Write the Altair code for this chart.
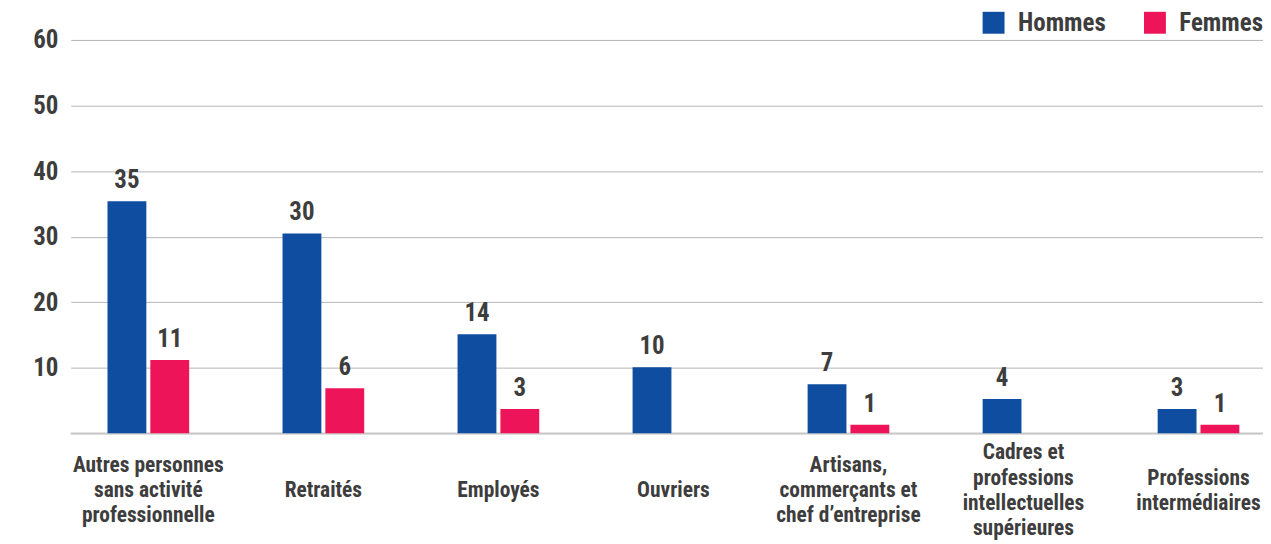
import altair as alt
import pandas as pd

# ---- data ----
categories = [
    "Autres personnes\nsans activité\nprofessionnelle",
    "Retraités",
    "Employés",
    "Ouvriers",
    "Artisans,\ncommerçants et\nchef d’entreprise",
    "Cadres et\nprofessions\nintellectuelles\nsupérieures",
    "Professions\nintermédiaires",
]
hommes = [35.4, 30.5, 15.1, 10.1, 7.5, 5.25, 3.7]
femmes = [11.2, 6.9, 3.7, None, 1.3, None, 1.3]
hommes_labels = ["35", "30", "14", "10", "7", "4", "3"]
femmes_labels = ["11", "6", "3", "", "1", "", "1"]
series = ["Hommes", "Femmes"]
y_ticks = [0, 10, 20, 30, 40, 50, 60]

BLUE = "#0e4da0"
PINK = "#ee1459"
TXT = "#3d3d3d"
FONT = "Liberation Sans Narrow, Roboto Condensed, DejaVu Sans Condensed, Arial Narrow, sans-serif"

rows = []
for i, c in enumerate(categories):
    rows.append(dict(idx=i, cat=c, serie="Hommes", val=hommes[i], lab=hommes_labels[i]))
    if femmes[i] is not None:
        rows.append(dict(idx=i, cat=c, serie="Femmes", val=femmes[i], lab=femmes_labels[i]))
df = pd.DataFrame(rows)
cats_df = pd.DataFrame({"idx": list(range(len(categories))), "cat": categories})

W, H = 1197, 395
xscale = alt.Scale(domain=[-0.4148, 6.340], nice=False, zero=False)
yscale = alt.Scale(domain=[0, 60], nice=False)

yaxis = alt.Axis(
    values=y_ticks,
    labelExpr="datum.value == 0 ? '' : datum.label",
    grid=True, gridColor="#b5b5b5", gridWidth=1,
    domain=False, ticks=False,
    labelFont=FONT, labelFontSize=25, labelFontWeight="bold",
    labelColor=TXT, labelPadding=13, title=None,
)

color = alt.Color(
    "serie:N",
    scale=alt.Scale(domain=series, range=[BLUE, PINK]),
    legend=alt.Legend(
        orient="none", legendX=914, legendY=-30, direction="horizontal",
        symbolType="square", symbolSize=484, symbolStrokeWidth=0,
        labelFont=FONT, labelFontSize=25, labelFontWeight="bold",
        labelColor=TXT, labelOffset=12, columnPadding=36, padding=0,
        title=None,
    ),
)

base = alt.Chart(df)
hx = base.transform_filter("datum.serie == 'Hommes'")
fx = base.transform_filter("datum.serie == 'Femmes'")

X = alt.X("idx:Q", scale=xscale, axis=None)
Y = alt.Y("val:Q", scale=yscale, axis=yaxis)

baseline = alt.Chart(pd.DataFrame({"v": [0]})).mark_rule(
    color="#c8c8c8", strokeWidth=2
).encode(y=alt.Y("v:Q", scale=yscale, axis=yaxis))

bars_h = hx.mark_bar(size=39, xOffset=-21.5).encode(x=X, y=Y, color=color)
bars_f = fx.mark_bar(size=39, xOffset=21.5).encode(x=X, y=Y, color=color)

txt_kw = dict(dy=-8, baseline="bottom", font=FONT, fontSize=25, fontWeight="bold", color=TXT)
lab_h = hx.mark_text(dx=-21.5, **txt_kw).encode(x=X, y=Y, text="lab:N")
lab_f = fx.mark_text(dx=21.5, **txt_kw).encode(x=X, y=Y, text="lab:N")

LH = 25.2
cat_layers = []
for k in range(1, 5):
    cat_layers.append(
        alt.Chart(cats_df)
        .transform_calculate(n="length(split(datum.cat, '\\n'))")
        .transform_filter(f"datum.n == {k}")
        .mark_text(
            lineBreak="\n", baseline="middle", align="center", font=FONT,
            fontSize=21.5, fontWeight="bold", lineHeight=LH, color=TXT,
            dy=-(k - 1) * LH / 2,
        )
        .encode(x=alt.X("idx:Q", scale=xscale, axis=None), y=alt.value(453), text="cat:N")
    )

chart = alt.layer(baseline, bars_h, bars_f, lab_h, lab_f, *cat_layers).properties(
    width=W, height=H,
    autosize=alt.AutoSizeParams(type="none"),
    padding={"left": 63, "top": 31, "right": 0, "bottom": 110},
).configure_view(stroke=None)

chart.save("out.html", embed_options={"renderer": "svg", "actions": False})
